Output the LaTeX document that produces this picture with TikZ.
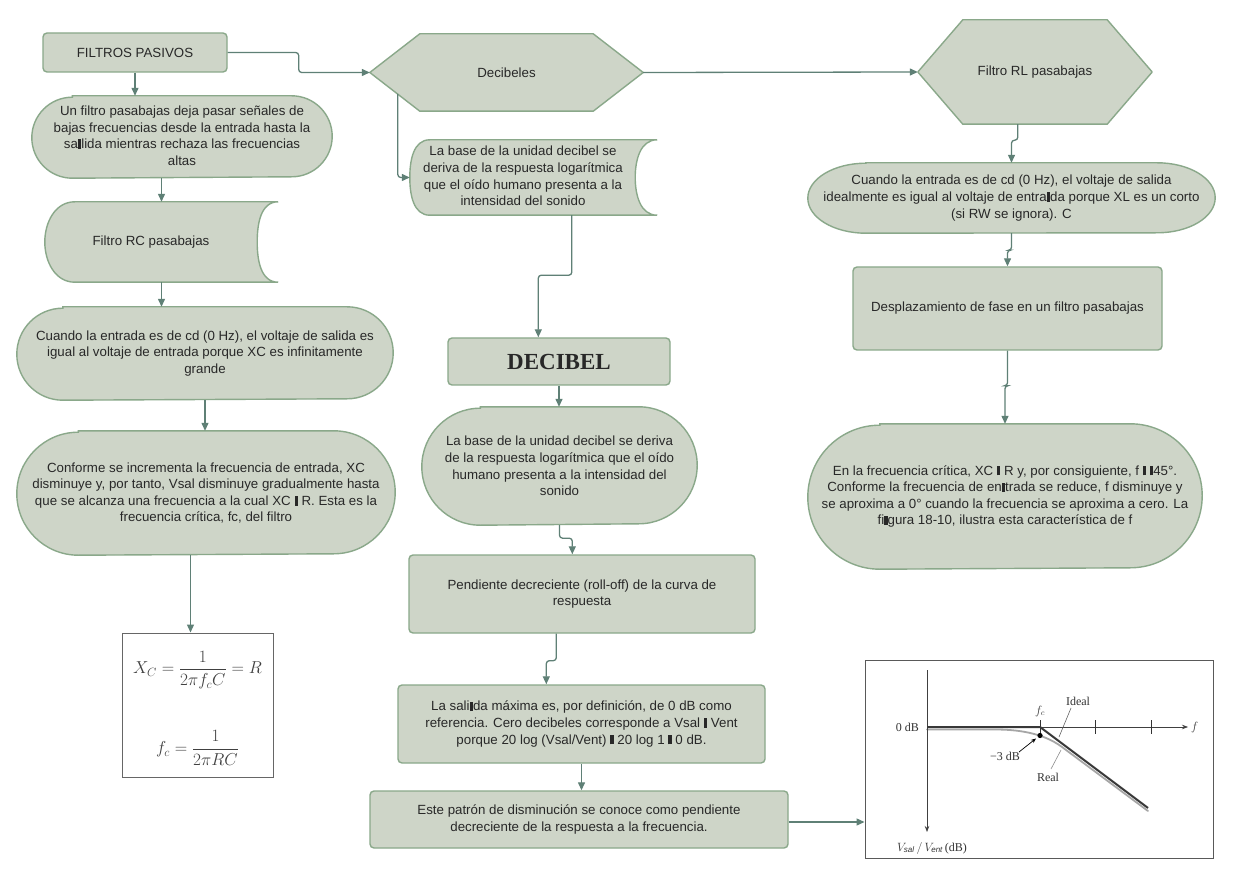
\documentclass[tikz,border=0pt]{standalone}
\usepackage{fontspec}
\setmainfont{Liberation Sans}
\newfontfamily\serifLS{Liberation Serif}
\usetikzlibrary{arrows.meta,calc,backgrounds}
\definecolor{fillg}{RGB}{206,213,200}
\definecolor{bordg}{RGB}{138,168,138}
\definecolor{arrg}{RGB}{95,128,118}
\definecolor{txt}{RGB}{40,40,40}
\newcommand{\blk}{\rule[-0.3pt]{3.4pt}{9.5pt}}
\newcommand{\stadE}[3]{\draw[shp] ([xshift=#2]#1.north west) -- ([xshift=-#2]#1.north east) arc[start angle=90,end angle=-90,x radius=#2,y radius=#3] -- ([xshift=#2]#1.south west) arc[start angle=270,end angle=90,x radius=#2,y radius=#3] -- cycle;}
\newcommand{\storedD}[3]{\draw[shp] (#1.north east) -- ([xshift=#2]#1.north west) to[out=180,in=90] (#1.west) to[out=-90,in=180] ([xshift=#2]#1.south west) -- (#1.south east) to[out=180,in=-90] ([xshift=-#3]#1.east) to[out=90,in=180] (#1.north east) -- cycle;}
\newcommand{\hexa}[2]{\draw[shp, line join=round] (#1.west) -- ([xshift=#2]#1.north west) -- ([xshift=-#2]#1.north east) -- (#1.east) -- ([xshift=-#2]#1.south east) -- ([xshift=#2]#1.south west) -- cycle;}
\begin{document}
\begin{tikzpicture}[x=1pt,y=-1pt,
  font=\fontsize{13.3}{16.6}\selectfont, text=txt,
  shp/.style={draw=bordg, fill=fillg, line width=1.4pt},
  tx/.style={rectangle, inner sep=0pt, align=center, draw=none},
  rbox/.style={rectangle, rounded corners=4pt, draw=bordg, fill=fillg, line width=1.4pt, inner sep=0pt, align=center},
  conn/.style={draw=arrg, line width=1.3pt, rounded corners=3pt, -{Triangle[length=8pt,width=7pt]}},
  glab/.style={inner sep=0pt, font=\serifLS\fontsize{12}{14}\selectfont, text=black!80},
]
\useasboundingbox (0,0) rectangle (1250,882);

% ---------- left column ----------
\node[rbox, minimum width=184pt, minimum height=39pt] (fp) at (135,52.5) {FILTROS PASIVOS};
\node[tx, minimum width=300pt, minimum height=82pt] (e1) at (182,137) {\raisebox{-3pt}{\begin{tabular}{@{}c@{}}Un filtro pasabajas deja pasar señales de\\bajas frecuencias desde la entrada hasta la\\sa\blk lida mientras rechaza las frecuencias\\altas\end{tabular}}};
\node[tx, minimum width=233pt, minimum height=80pt] (rc) at (161.5,242) {Filtro RC pasabajas\hspace*{21pt}};
\node[tx, minimum width=376pt, minimum height=93pt] (e2) at (205,353.5) {Cuando la entrada es de cd (0 Hz), el voltaje de salida es\\igual al voltaje de entrada porque XC es infinitamente\\grande};
\node[tx, minimum width=378pt, minimum height=124pt] (e3) at (206,493) {Conforme se incrementa la frecuencia de entrada, XC\\disminuye y, por tanto, Vsal disminuye gradualmente hasta\\que se alcanza una frecuencia a la cual XC \blk\ R. Esta es la\\frecuencia crítica, fc, del filtro};
\node[rectangle, draw=black!60, fill=white, line width=1pt, minimum width=151pt, minimum height=144pt, inner sep=0pt] (fbox) at (197.5,705) {};
\node[inner sep=0pt, font=\fontsize{17}{20}\selectfont, text=black!75] (f1) at (197.5,670) {$X_C=\displaystyle\frac{1}{2\pi f_c C}=R$};
\node[inner sep=0pt, font=\fontsize{17}{20}\selectfont, text=black!75] (f2) at (197.5,748) {$f_c=\displaystyle\frac{1}{2\pi RC}$};

% ---------- middle column ----------
\node[tx, minimum width=273pt, minimum height=77pt] (dec) at (506.5,72.5) {Decibeles};
\node[tx, minimum width=247pt, minimum height=75pt] (sd5) at (533.5,177.5) {\hspace*{-21pt}\begin{tabular}{@{}c@{}}La base de la unidad decibel se\\deriva de la respuesta logarítmica\\que el oído humano presenta a la\\intensidad del sonido\end{tabular}};
\node[rbox, minimum width=222pt, minimum height=47pt] (dbl) at (559,361.5) {\serifLS\bfseries\fontsize{23}{26}\selectfont DECIBEL};
\node[tx, minimum width=275pt, minimum height=118pt] (e6) at (559.5,466) {La base de la unidad decibel se deriva\\de la respuesta logarítmica que el oído\\humano presenta a la intensidad del\\sonido};
\node[rbox, minimum width=346pt, minimum height=78pt] (b7) at (582,594) {Pendiente decreciente (roll-off) de la curva de\\respuesta};
\node[rbox, minimum width=367pt, minimum height=78pt] (b8) at (581.5,724) {La sali\blk da máxima es, por definición, de 0 dB como\\referencia. Cero decibeles corresponde a Vsal \blk\ Vent\\porque 20 log (Vsal/Vent) \blk\ 20 log 1 \blk\ 0 dB.};
\node[rbox, minimum width=418pt, minimum height=57pt] (b9) at (579,819.5) {Este patrón de disminución se conoce como pendiente\\decreciente de la respuesta a la frecuencia.};

% ---------- right column ----------
\node[tx, minimum width=234pt, minimum height=104pt] (rl) at (1035,72) {Filtro RL pasabajas};
\node[tx, minimum width=407pt, minimum height=70pt] (e10) at (1011.5,198) {Cuando la entrada es de cd (0 Hz), el voltaje de salida\\idealmente es igual al voltaje de entra\blk da porque XL es un corto\\(si RW se ignora). C};
\node[rbox, minimum width=309pt, minimum height=83pt] (b11) at (1007.5,308.5) {Desplazamiento de fase en un filtro pasabajas};
\node[tx, minimum width=394pt, minimum height=145pt] (e12) at (1005,496.5) {En la frecuencia crítica, XC \blk\ R y, por consiguiente, f \blk\ \blk 45°.\\Conforme la frecuencia de en\blk trada se reduce, f disminuye y\\se aproxima a 0° cuando la frecuencia se aproxima a cero. La\\fi\blk gura 18-10, ilustra esta característica de f};

% ---------- graph ----------
\node[rectangle, draw=black!65, fill=white, line width=1pt, minimum width=348pt, minimum height=198pt, inner sep=0pt] (gbox) at (1039,759) {};
\draw[line width=1.8pt, black!35, line cap=round] (927,729.5) -- (995,729.5) .. controls (1015,729.5) and (1042,732) .. (1062,747) -- (1148,811);
\draw[line width=0.7pt, draw=black!75, -{Stealth[length=6pt,width=4.5pt]}] (927,670) -- (927,832);
\draw[line width=0.7pt, draw=black!75, -{Stealth[length=6pt,width=4.5pt]}] (927,727) -- (1188,727);
\foreach \x in {1040,1095,1151} \draw[line width=0.8pt, black!80] (\x,720) -- (\x,734);
\draw[line width=2pt, black!78, line join=miter] (927,727) -- (1040,727) -- (1148,808);
\fill[black] (1040,735.5) circle[radius=2.6pt];
\draw[black!60, line width=0.6pt] (1071,708) -- (1059,737);
\draw[black!45, line width=0.6pt] (1051,769) -- (1061,750);
\draw[black, line width=0.7pt, -{Stealth[length=5pt,width=4pt]}] (1019,752) -- (1036,738.5);
\node[glab, anchor=east] (g0) at (919,727) {0 dB};
\node[glab] (gfc) at (1040,711) {$f_c$};
\node[glab, anchor=west] (gf) at (1191,727) {$f$};
\node[glab] (gid) at (1078,701) {Ideal};
\node[glab] (g3) at (1005,756) {−3 dB};
\node[glab] (greal) at (1048,777) {Real};
\node[glab] (gv) at (932,848) {$V_{\mathit{sal}}\,/\,V_{\mathit{ent}}$\,(dB)};

% ---------- shapes (background) ----------
\begin{scope}[on background layer]
\fill[white] (0,0) rectangle (1250,882);
\stadE{e1}{40.5pt}{40.5pt}
\storedD{rc}{30pt}{21pt}
\stadE{e2}{46pt}{46pt}
\stadE{e3}{61.5pt}{61.5pt}
\hexa{dec}{50pt}
\storedD{sd5}{20pt}{22pt}
\stadE{e6}{58.5pt}{58.5pt}
\hexa{rl}{45pt}
\stadE{e10}{58pt}{35pt}
\stadE{e12}{72pt}{72pt}
\end{scope}

% ---------- connectors ----------
\draw[conn] (fp.east) -- ++(71,0) |- (dec.west);
\draw[conn] (fp.south) -- (fp.south |- e1.north);
\draw[conn] (rc.north |- e1.south) -- (rc.north);
\draw[conn] (rc.south) -- (rc.south |- e2.north);
\draw[conn] (e2.south) -- (e2.south |- e3.north);
\draw[conn] ($(fbox.north |- e3.south)+(-7,0)$) -- ($(fbox.north)+(-7,0)$);
\draw[conn] ($(dec.west)+(28,21.5)$) |- (sd5.west);
\draw[conn] (dec.east) -- (rl.west);
\draw[conn] ($(sd5.south west)+(162,0)$) -- ++(0,60) -| ($(dbl.north west)+(91,0)$);
\draw[conn] (dbl.south) -- (dbl.south |- e6.north);
\draw[conn] (e6.south) -- ++(0,13) -| ($(b7.north west)+(164,0)$);
\draw[conn] ($(b7.south west)+(148,0)$) -- ++(0,27) -| ($(b8.north west)+(149,0)$);
\draw[conn] (b8.south) -- (b8.south |- b9.north);
\draw[conn] ($(b9.east)+(0,2.5)$) -- ($(b9.east -| gbox.west)+(0,2.5)$);
\draw[conn] ($(rl.south west)+(100,0)$) -- ++(0,16) -| (e10.north);
\draw[conn] (e10.south) -- ++(0,17) -| (b11.north);
\draw[conn] (b11.south) -- ++(0,35) -| (e12.north);
\end{tikzpicture}
\end{document}
